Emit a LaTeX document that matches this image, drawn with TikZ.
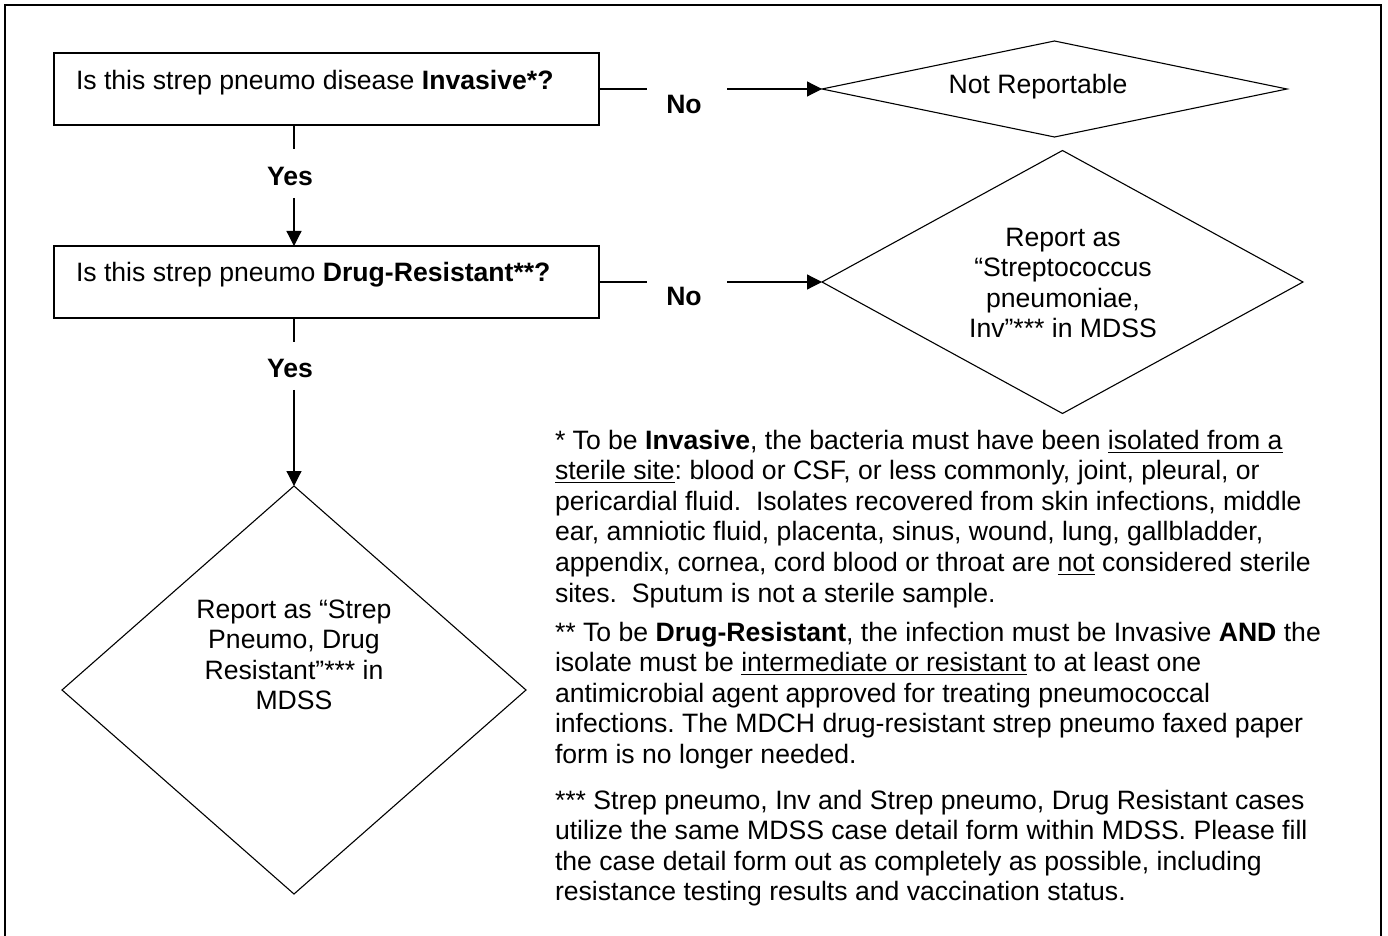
\documentclass[tikz,border=0pt]{standalone}
\usepackage{fontspec}
\setmainfont{Liberation Sans}
\usetikzlibrary{shapes.geometric,arrows.meta}
\begin{document}
\begin{tikzpicture}[x=0.5pt,y=-0.5pt,
  every node/.style={inner sep=0pt,outer sep=0pt,font=\fontsize{13.3}{15.3}\selectfont\frenchspacing},
  qbox/.style={draw,line width=0.7pt,rectangle,minimum width=272.5pt,minimum height=36pt},
  dia/.style={draw,line width=0.55pt,diamond},
  conn/.style={line width=0.6pt},
  arr/.style={conn,-{Triangle[length=7.5pt,width=7.5pt]}},
  lbl/.style={font=\fontsize{13.3}{15.3}\selectfont\bfseries},
  ftxt/.style={align=left,anchor=north west},
  ctxt/.style={align=center,anchor=north}]
\useasboundingbox (0,0) rectangle (1388,936);
% outer frame (bottom edge lies below the picture)
\draw[line width=0.9pt] (5,936) -- (5,5) -- (1381,5) -- (1381,936);

% question boxes
\node[qbox] (b1) at (326.5,89) {};
\node[anchor=base west] (b1t) at (76,90) {Is this strep pneumo disease \textbf{Invasive*?}};
\node[qbox] (b2) at (326.5,282) {};
\node[anchor=base west] (b2t) at (76,282) {Is this strep pneumo \textbf{Drug-Resistant**?}};

% outcome diamonds
\node[dia,minimum width=232.5pt,minimum height=48pt] (d1) at (1054.5,89) {};
\node[anchor=base] (d1t) at (1038,94) {Not Reportable};
\node[dia,minimum width=240.5pt,minimum height=131.5pt] (d2) at (1062.5,282) {};
\node[ctxt] (d2t) at (1063,224.6) {\strut Report as\\“Streptococcus\\pneumoniae,\\Inv”*** in MDSS};
\node[dia,minimum width=232pt,minimum height=204pt] (d3) at (294,690) {};
\node[ctxt] (d3t) at (294,596.6) {\strut Report as “Strep\\Pneumo, Drug\\Resistant”*** in\\MDSS};

% branch labels
\node[lbl] (no1) at (684,104) {No};
\node[lbl] (no2) at (684,296) {No};
\node[lbl] (yes1) at (290,176) {Yes};
\node[lbl] (yes2) at (290,368) {Yes};

% connector break points
\coordinate (c1a) at (647,89);
\coordinate (c1b) at (727,89);
\coordinate (c2a) at (647,282);
\coordinate (c2b) at (727,282);
\coordinate (v1a) at (294,149);
\coordinate (v1b) at (294,198);
\coordinate (v2a) at (294,342);
\coordinate (v2b) at (294,390);

% connectors
\draw[conn] (b1.east) -- (c1a);
\draw[arr] (c1b) -- (d1.west);
\draw[conn] (b2.east) -- (c2a);
\draw[arr] (c2b) -- (d2.west);
\draw[conn] (b1.south -| v1a) -- (v1a);
\draw[arr] (v1b) -- (b2.north -| v1b);
\draw[conn] (b2.south -| v2a) -- (v2a);
\draw[arr] (v2b) -- (d3.north);

% footnotes
\node[ftxt] (fn1) at (555,427.6) {\strut * To be \textbf{Invasive}, the bacteria must have been \underline{isolated from a}\\
\underline{sterile site}: blood or CSF, or less commonly, joint, pleural, or\\
pericardial fluid.~ Isolates recovered from skin infections, middle\\
ear, amniotic fluid, placenta, sinus, wound, lung, gallbladder,\\
appendix, cornea, cord blood or throat are \underline{not} considered sterile\\
sites.~ Sputum is not a sterile sample.};
\node[ftxt] (fn2) at (555,619.6) {\strut ** To be \textbf{Drug-Resistant}, the infection must be Invasive \textbf{AND} the\\
isolate must be \underline{intermediate or resistant} to at least one\\
antimicrobial agent approved for treating pneumococcal\\
infections. The MDCH drug-resistant strep pneumo faxed paper\\
form is no longer needed.};
\node[ftxt] (fn3) at (555,787.6) {\strut *** Strep pneumo, Inv and Strep pneumo, Drug Resistant cases\\
utilize the same MDSS case detail form within MDSS. Please fill\\
the case detail form out as completely as possible, including\\
resistance testing results and vaccination status.};
\end{tikzpicture}
\end{document}
